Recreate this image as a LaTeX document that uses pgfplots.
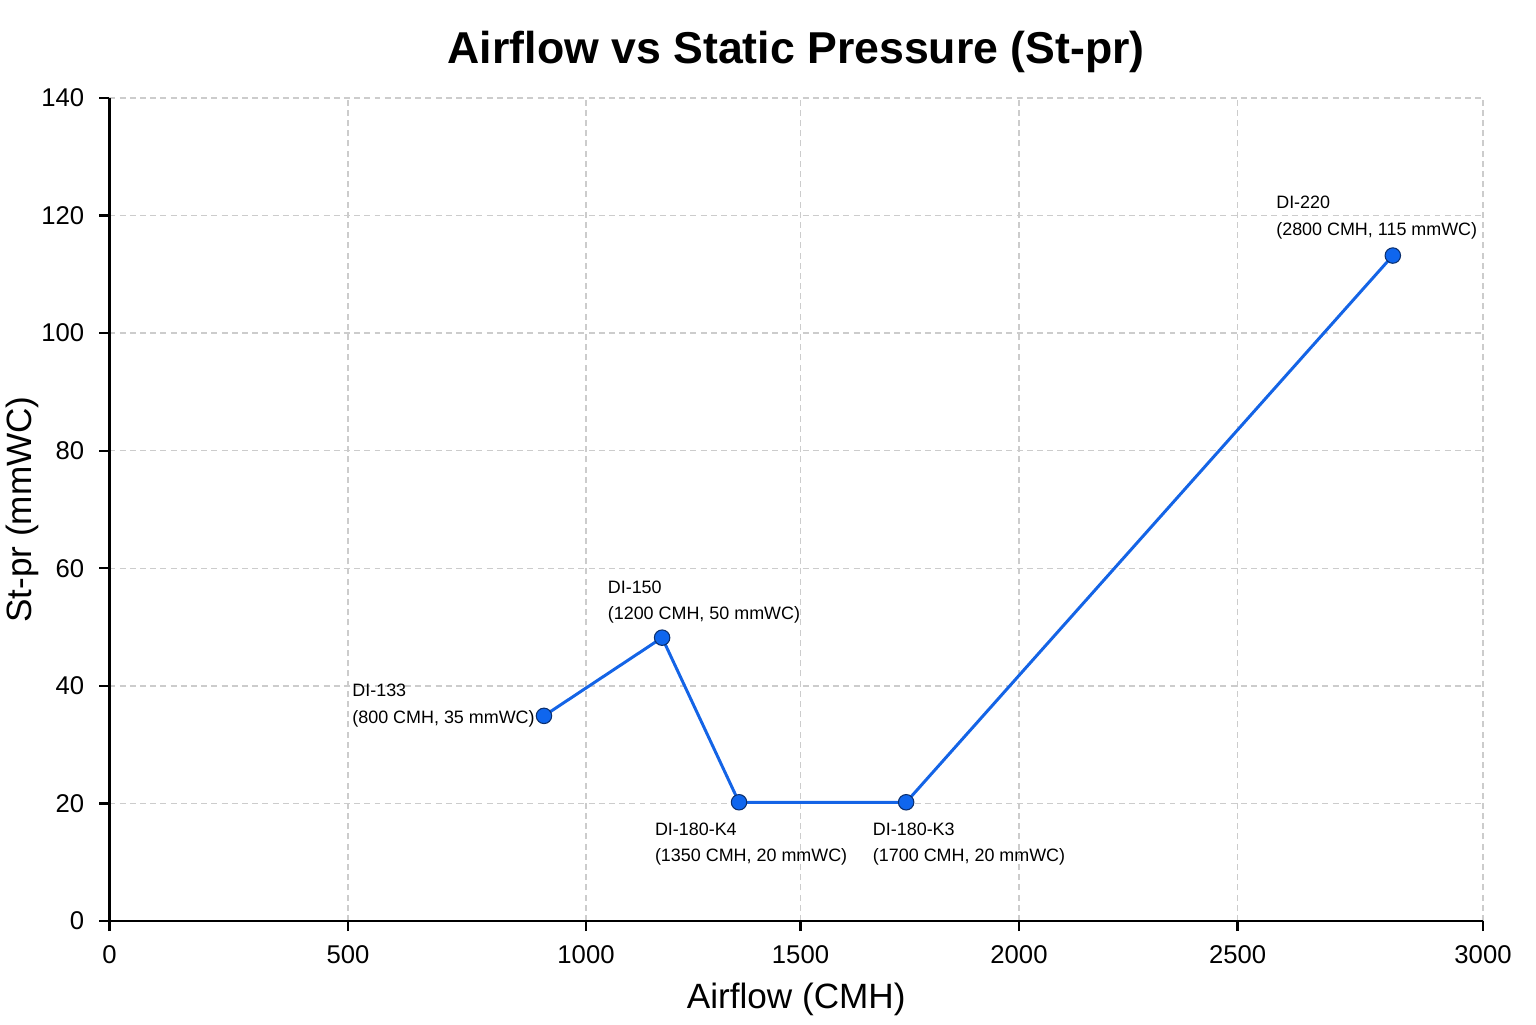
\documentclass[border=0pt]{standalone}
\usepackage{fontspec}
\setmainfont{Liberation Sans}
\usepackage{pgfplots}
\pgfplotsset{compat=1.18}
\definecolor{lineblue}{HTML}{1464E6}
\definecolor{markblue}{HTML}{0F66EE}
\definecolor{markedge}{HTML}{0B2F6E}
\definecolor{gridgray}{HTML}{CCCCCC}
\begin{document}
\begin{tikzpicture}
\begin{axis}[
  at={(0,0)}, anchor=south west,
  scale only axis,
  width=13.735cm, height=8.23cm,
  xmin=0, xmax=3000, ymin=0, ymax=140,
  xtick={0,520.9,1040.8,1509.3,1986.5,2464.0,3000},
  xticklabels={0,500,1000,1500,2000,2500,3000},
  ytick={0,20,...,140},
  axis x line=bottom, axis y line=left,
  axis line style={-, black, line width=0.65pt},
  tick align=outside, major tick length=0.1cm,
  tick style={black, line width=0.65pt},
  grid=major,
  major grid style={gridgray, line width=0.4pt, dash pattern=on 1.7pt off 1.2pt},
  /pgf/number format/assume math mode=true,
  scaled ticks=false,
  yticklabel style={/pgf/number format/1000 sep={}},
  ticklabel style={font=\fontsize{7.3}{8.5}\selectfont},
  xticklabel style={yshift=-0.02cm},
  yticklabel style={xshift=-0.03cm},
  xlabel={Airflow (CMH)},
  ylabel={St-pr (mmWC)},
  label style={font=\fontsize{9.7}{11}\selectfont},
  every axis x label/.style={at={(axis description cs:0.5,0)}, anchor=center, yshift=-0.78cm},
  every axis y label/.style={at={(axis description cs:0,0.5)}, xshift=-0.875cm, anchor=center, rotate=90},
  title={Airflow vs Static Pressure (St-pr)},
  every axis title/.style={font=\fontsize{12.7}{14}\selectfont\bfseries, at={(axis description cs:0.5,1)}, anchor=center, yshift=0.46cm},
  clip=false,
]
\addplot[lineblue, line width=0.85pt, mark=*, mark size=2.2pt,
  mark options={fill=markblue, draw=markedge, line width=0.3pt}]
  coordinates {(949,34.9) (1207,48.2) (1375,20.2) (1740,20.2) (2803,113.2)};
\begin{scope}[every node/.style={font=\fontsize{5.1}{7.5}\selectfont, align=left, inner sep=0pt, anchor=north west}]
\node at (axis cs:529,40.4) {DI-133\\(800 CMH, 35 mmWC)};
\node at (axis cs:1087,58.0) {DI-150\\(1200 CMH, 50 mmWC)};
\node at (axis cs:1190,16.8) {DI-180-K4\\(1350 CMH, 20 mmWC)};
\node at (axis cs:1666,16.8) {DI-180-K3\\(1700 CMH, 20 mmWC)};
\node at (axis cs:2547,123.4) {DI-220\\(2800 CMH, 115 mmWC)};
\end{scope}
\end{axis}
\pgfresetboundingbox
\path[use as bounding box] (-1.095cm,-1.03cm) rectangle (14.265cm,9.21cm);
\end{tikzpicture}
\end{document}
